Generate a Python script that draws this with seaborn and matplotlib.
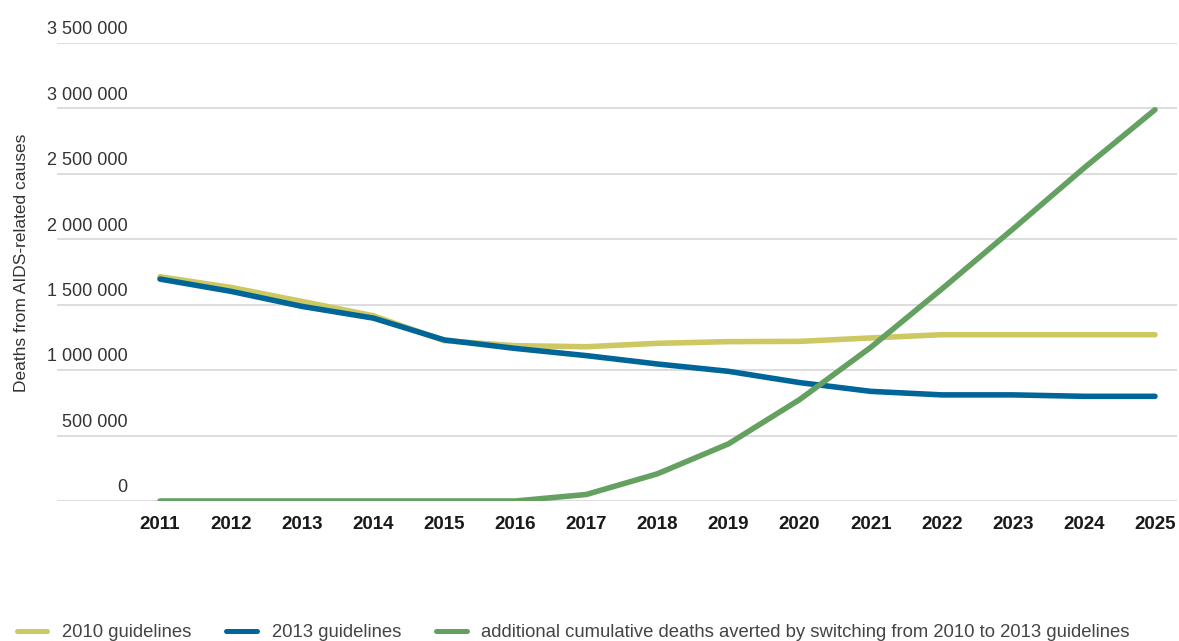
import pandas as pd
import seaborn as sns
import matplotlib.pyplot as plt
import matplotlib.transforms as mtransforms

# data
years = list(range(2011, 2026))
deaths_2010 = [1714000, 1632000, 1525000, 1416000, 1225000, 1187000, 1179000, 1205000,
               1218000, 1220000, 1246000, 1271000, 1271000, 1271000, 1271000]
deaths_2013 = [1696000, 1602000, 1487000, 1398000, 1231000, 1166000, 1111000, 1047000,
               991000, 905000, 838000, 811000, 811000, 800000, 800000]
averted = [0, 0, 0, 0, 0, 0, 50000, 208000, 437000, 775000, 1174000, 1620000,
           2078000, 2544000, 2990000]

series_names = ["2010 guidelines", "2013 guidelines",
                "additional cumulative deaths averted by switching from 2010 to 2013 guidelines"]
colors = ["#CDC862", "#006699", "#64A161"]
y_ticks = [0, 500000, 1000000, 1500000, 2000000, 2500000, 3000000, 3500000]
y_tick_labels = ["0", "500 000", "1 000 000", "1 500 000", "2 000 000",
                 "2 500 000", "3 000 000", "3 500 000"]

df = pd.DataFrame({
    "year": years * 3,
    "value": deaths_2010 + deaths_2013 + averted,
    "series": [series_names[0]] * 15 + [series_names[1]] * 15 + [series_names[2]] * 15,
})

sns.set_style("white")
plt.rcParams["font.family"] = ["Liberation Sans", "DejaVu Sans"]

fig = plt.figure(figsize=(11.79, 6.41), dpi=100)
ax = fig.add_axes([0.0483, 0.2184, 0.9500, 0.7145])

sns.lineplot(data=df, x="year", y="value", hue="series", hue_order=series_names,
             palette=dict(zip(series_names, colors)), linewidth=4.0, ax=ax,
             legend=False)

ax.set_xlim(2009.55, 2025.31)
ax.set_ylim(0, 3500000)
ax.set_xticks(years)
ax.set_xticklabels([str(y) for y in years], fontsize=13.5, fontweight="bold",
                   color="#1a1a1a")
ax.set_yticks(y_ticks)
ax.set_yticklabels(y_tick_labels, fontsize=13, color="#333333")
ax.tick_params(axis="both", length=0)
ax.tick_params(axis="x", pad=11)
ax.tick_params(axis="y", pad=-51)

# y tick labels sit above their gridlines
shift = mtransforms.ScaledTranslation(0, 11 / 72, fig.dpi_scale_trans)
for lab in ax.get_yticklabels():
    lab.set_transform(lab.get_transform() + shift)

ax.yaxis.grid(True, color="#DADADA", linewidth=1.3)
ax.set_axisbelow(True)
for s in ax.spines.values():
    s.set_visible(False)

ax.set_xlabel("")
ax.set_ylabel("Deaths from AIDS-related causes", fontsize=12.5, color="#333333")
ax.yaxis.set_label_coords(-0.025, 0.52)

handles = [plt.Line2D([], [], color=c, linewidth=3.6) for c in colors]
fig.legend(handles, series_names, loc="lower left", bbox_to_anchor=(0.0, -0.026),
           ncol=3, frameon=False, fontsize=13.3, handlelength=1.65, handletextpad=0.8,
           columnspacing=1.9, labelcolor="#444444")

fig.savefig("out.png", dpi=100)
